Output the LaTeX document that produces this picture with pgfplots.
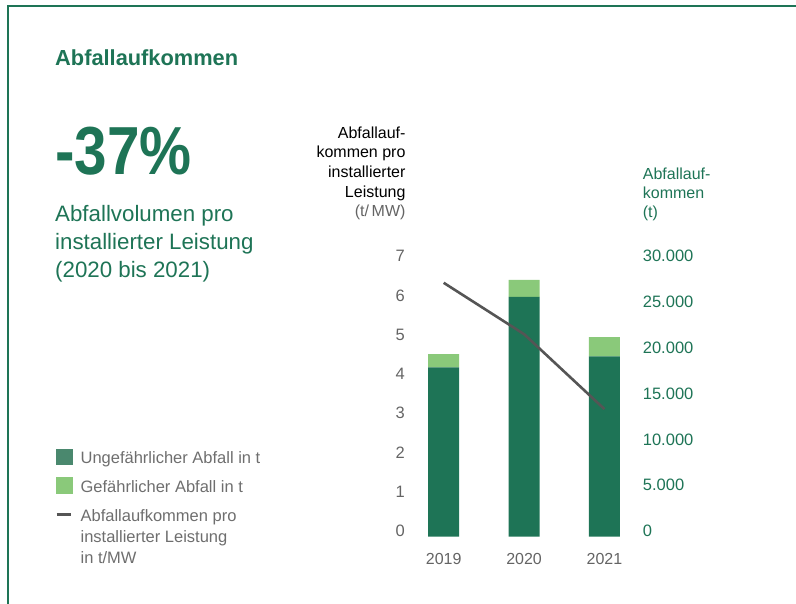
\documentclass[border=0pt]{standalone}
\usepackage{fontspec}
\setmainfont{Liberation Sans}
\usepackage{graphicx}
\usepackage{pgfplots}
\pgfplotsset{compat=1.18}
\definecolor{dgreen}{RGB}{30,116,86}
\definecolor{lgreen}{RGB}{138,201,122}
\definecolor{tgreen}{RGB}{30,116,86}
\definecolor{lgray}{RGB}{85,85,85}
\definecolor{tickgray}{RGB}{100,100,100}
\definecolor{leggray}{RGB}{110,110,110}
\definecolor{legdark}{RGB}{74,136,110}
\pgfplotsset{/pgf/number format/assume math mode=true}
\begin{document}
\begin{tikzpicture}[x=1pt,y=1pt]
\path[use as bounding box] (0,0) rectangle (796,604);
\draw[tgreen, line width=2pt] (8.3,0) -- (8.3,598) -- (796,598);
\node[anchor=base west, inner sep=0pt, text=tgreen, font=\fontsize{21.8}{26}\selectfont\bfseries] at (55,538) {Abfallaufkommen};
\node[anchor=base west, inner sep=0pt, text=tgreen, font=\fontsize{68}{70}\selectfont\bfseries] at (55,429) {\scalebox{0.86}[1]{-37\%}};
\node[anchor=base west, inner sep=0pt, text=tgreen, font=\fontsize{22.3}{28}\selectfont] at (55,382.3) {Abfallvolumen pro};
\node[anchor=base west, inner sep=0pt, text=tgreen, font=\fontsize{22.3}{28}\selectfont] at (55,354) {installierter Leistung};
\node[anchor=base west, inner sep=0pt, text=tgreen, font=\fontsize{22.3}{28}\selectfont] at (55,326) {(2020 bis 2021)};

% bars, right axis
\begin{axis}[
  at={(403.5pt,67.3pt)}, anchor=south west,
  scale only axis, width=241.2pt, height=274.7pt,
  xmin=-0.5, xmax=2.5, ymin=0, ymax=30000,
  ybar stacked, bar width=31pt,
  axis line style={draw=none}, tick style={draw=none}, major tick length=0pt,
  xtick={0,1,2}, xticklabels={2019,2020,2021},
  xticklabel style={anchor=base, inner sep=0pt, yshift=-27.6pt, text=tickgray, font=\fontsize{16}{19}\selectfont},
  ytick={0,5000,10000,15000,20000,25000,30000},
  yticklabel pos=right, scaled y ticks=false,
  yticklabel style={anchor=base west, inner sep=0pt, xshift=-2pt, text=tgreen, font=\fontsize{16.5}{19}\selectfont, /pgf/number format/1000 sep={.}},
  ylabel={Abfallauf-\\kommen\\(t)},
  ylabel style={rotate=-90, at={(axis description cs:0.9917,1.1478)}, anchor=south west, align=left, inner sep=0pt, text=tgreen, font=\fontsize{16}{19.2}\selectfont},
  legend style={at={(axis description cs:-1.4448,0.3229)}, anchor=north west, draw=none, fill=none, inner sep=0pt, outer sep=0pt, row sep=0pt, column sep=8.3pt, cells={anchor=base west}, nodes={inner sep=0pt, text=leggray, font=\fontsize{16.5}{19}\selectfont}},
]
\addplot[fill=dgreen, draw=none, forget plot] coordinates {(0,18500) (1,26200) (2,19700)};
\addplot[fill=lgreen, draw=none, forget plot] coordinates {(0,1450) (1,1850) (2,2100)};
\addlegendimage{legend image code/.code={\fill[legdark] (0pt,-0.5pt) rectangle (16pt,15pt);}}
\addlegendentry[text height=16pt, text depth=12.7pt]{Ungefährlicher Abfall in t}
\addlegendimage{legend image code/.code={\fill[lgreen] (0pt,-0.5pt) rectangle (16pt,15pt);}}
\addlegendentry[text height=16pt, text depth=13.3pt]{Gefährlicher Abfall in t}
\addlegendimage{legend image code/.code={\draw[lgray, line width=3pt] (0.7pt,7pt) -- (15pt,7pt);}}
\addlegendentry[text height=16pt, text depth=4.7pt]{Abfallaufkommen pro}
\addlegendimage{legend image code/.code={}}
\addlegendentry[text height=16pt, text depth=5.3pt]{installierter Leistung}
\addlegendimage{legend image code/.code={}}
\addlegendentry[text height=16pt, text depth=4pt]{in t/MW}
\end{axis}

% line, left axis
\begin{axis}[
  at={(403.5pt,67.3pt)}, anchor=south west,
  scale only axis, width=241.2pt, height=274.7pt,
  xmin=-0.5, xmax=2.5, ymin=0, ymax=7,
  axis line style={draw=none}, tick style={draw=none}, major tick length=0pt,
  xtick=\empty,
  ytick={0,1,2,3,4,5,6,7},
  yticklabel style={anchor=base east, inner sep=0pt, xshift=1.5pt, text=tickgray, font=\fontsize{16.5}{19}\selectfont},
  ylabel={Abfallauf-\\kommen pro\\installierter\\Leistung\\\textcolor{tickgray}{(t/\,MW)}},
  ylabel style={rotate=-90, at={(axis description cs:0.009,1.1514)}, anchor=south east, align=right, inner sep=0pt, text=black, font=\fontsize{16}{19.7}\selectfont},
]
\addplot[lgray, line width=2.6pt, mark=none] coordinates {(0,6.47) (1,5.16) (2,3.25)};
\end{axis}
\end{tikzpicture}
\end{document}
